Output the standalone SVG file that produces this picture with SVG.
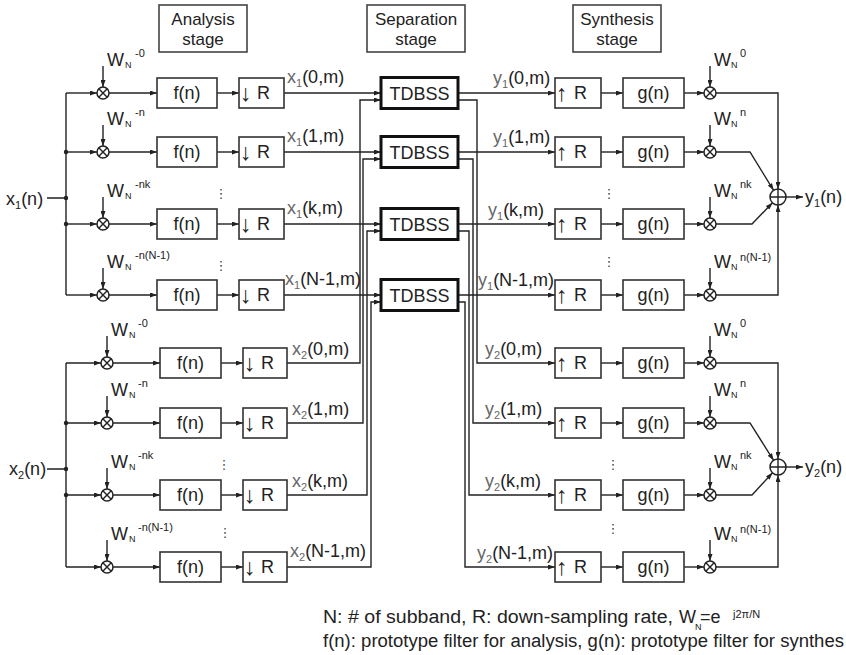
<svg xmlns="http://www.w3.org/2000/svg" width="846" height="655" viewBox="0 0 846 655">
<defs>
<style>
.ln{stroke:#222;stroke-width:1.4;fill:none}
.a{marker-end:url(#ah)}
.bx{fill:#fff;stroke:#333;stroke-width:1.6}
.hb{fill:#fff;stroke:#444;stroke-width:1.6}
.tb{fill:#fff;stroke:#111;stroke-width:3}
.t{font-family:"Liberation Sans",Arial,sans-serif;font-size:18px;fill:#222}
.ht{font-size:17px}
.ar{font-size:23px}
.ct{text-anchor:middle}
.v{fill:#666}
.s{font-size:11px}
.n{font-size:9px}
.p{font-size:11px}
.dots{font-family:"DejaVu Sans",sans-serif;font-size:13px;fill:#444;text-anchor:middle}
</style>
<marker id="ah" viewBox="0 0 7 5" refX="7" refY="2.5" markerWidth="7" markerHeight="5" markerUnits="userSpaceOnUse" orient="auto"><path d="M0,0L7,2.5L0,5z" fill="#222"/></marker>
<g id="mul"><circle r="6" fill="#fff" stroke="#222" stroke-width="1.5"/><path d="M-4.2,-4.2L4.2,4.2M-4.2,4.2L4.2,-4.2" stroke="#222" stroke-width="1.4"/></g>
<g id="sum"><circle r="8" fill="#fff" stroke="#222" stroke-width="1.5"/><path d="M-8,0H8M0,-8V8" stroke="#222" stroke-width="1.4"/></g>
</defs>
<rect width="846" height="655" fill="#fff"/>

<g id="headers">
<g id="h-analysis"><rect class="hb" x="159" y="5" width="88" height="47"/><text class="t ht ct" x="203" y="25">Analysis</text><text class="t ht ct" x="203" y="45">stage</text></g>
<g id="h-separation"><rect class="hb" x="367" y="5" width="98" height="47"/><text class="t ht ct" x="416" y="25">Separation</text><text class="t ht ct" x="416" y="45">stage</text></g>
<g id="h-synthesis"><rect class="hb" x="573" y="5" width="88" height="47"/><text class="t ht ct" x="617" y="25">Synthesis</text><text class="t ht ct" x="617" y="45">stage</text></g>
</g>

<g id="connectors">
<!-- channel 1 analysis -->
<path class="ln" d="M47,198H66M66,93V295"/>
<path class="ln a" d="M66,93H97"/><path class="ln a" d="M66,152H97"/><path class="ln a" d="M66,224H97"/><path class="ln a" d="M66,295H97"/>
<path class="ln a" d="M103,66V87"/><path class="ln a" d="M103,125V146"/><path class="ln a" d="M103,197V218"/><path class="ln a" d="M103,268V289"/>
<path class="ln a" d="M109,93H157"/><path class="ln a" d="M109,152H157"/><path class="ln a" d="M109,224H157"/><path class="ln a" d="M109,295H157"/>
<path class="ln a" d="M217,93H239"/><path class="ln a" d="M217,152H239"/><path class="ln a" d="M217,224H239"/><path class="ln a" d="M217,295H239"/>
<path class="ln a" d="M284,93H381"/><path class="ln a" d="M284,152H381"/><path class="ln a" d="M284,224H381"/><path class="ln a" d="M284,295H381"/>
<!-- channel 2 analysis -->
<path class="ln" d="M47,469H66M66,363V567"/>
<path class="ln a" d="M66,363H101"/><path class="ln a" d="M66,423H101"/><path class="ln a" d="M66,495H101"/><path class="ln a" d="M66,567H101"/>
<path class="ln a" d="M107,336V357"/><path class="ln a" d="M107,396V417"/><path class="ln a" d="M107,468V489"/><path class="ln a" d="M107,540V561"/>
<path class="ln a" d="M113,363H160"/><path class="ln a" d="M113,423H160"/><path class="ln a" d="M113,495H160"/><path class="ln a" d="M113,567H160"/>
<path class="ln a" d="M221,363H243"/><path class="ln a" d="M221,423H243"/><path class="ln a" d="M221,495H243"/><path class="ln a" d="M221,567H243"/>
<path class="ln a" d="M287,363H360V100H381"/>
<path class="ln a" d="M287,423H363V159H381"/>
<path class="ln a" d="M287,495H367V231H381"/>
<path class="ln a" d="M287,567H371V302H381"/>
<!-- separation outputs -->
<path class="ln a" d="M458,93H555"/><path class="ln a" d="M458,152H555"/><path class="ln a" d="M458,224H555"/><path class="ln a" d="M458,295H555"/>
<path class="ln a" d="M458,100H477V363H555"/>
<path class="ln a" d="M458,159H473V423H555"/>
<path class="ln a" d="M458,231H469V495H555"/>
<path class="ln a" d="M458,302H465V567H555"/>
<!-- channel 1 synthesis -->
<path class="ln a" d="M601,93H623"/><path class="ln a" d="M601,152H623"/><path class="ln a" d="M601,224H623"/><path class="ln a" d="M601,295H623"/>
<path class="ln a" d="M684,93H704"/><path class="ln a" d="M684,152H704"/><path class="ln a" d="M684,224H704"/><path class="ln a" d="M684,295H704"/>
<path class="ln a" d="M710,66V87"/><path class="ln a" d="M710,125V146"/><path class="ln a" d="M710,197V218"/><path class="ln a" d="M710,268V289"/>
<path class="ln a" d="M716,93H778V189"/>
<path class="ln a" d="M716,152H750L773.6,190.3"/>
<path class="ln a" d="M716,224H752L772.5,202.8"/>
<path class="ln a" d="M716,295H778V205"/>
<path class="ln a" d="M786,197H803"/>
<!-- channel 2 synthesis -->
<path class="ln a" d="M601,363H623"/><path class="ln a" d="M601,423H623"/><path class="ln a" d="M601,495H623"/><path class="ln a" d="M601,567H623"/>
<path class="ln a" d="M684,363H704"/><path class="ln a" d="M684,423H704"/><path class="ln a" d="M684,495H704"/><path class="ln a" d="M684,567H704"/>
<path class="ln a" d="M710,336V357"/><path class="ln a" d="M710,396V417"/><path class="ln a" d="M710,468V489"/><path class="ln a" d="M710,540V561"/>
<path class="ln a" d="M716,363H778V459"/>
<path class="ln a" d="M716,423H750L773.6,460.3"/>
<path class="ln a" d="M716,495H752L772.5,472.8"/>
<path class="ln a" d="M716,567H778V475"/>
<path class="ln a" d="M786,467H803"/>
<!-- junction dots -->
<g fill="#222"><circle cx="66" cy="152" r="2.2"/><circle cx="66" cy="198" r="2.2"/><circle cx="66" cy="224" r="2.2"/><circle cx="66" cy="423" r="2.2"/><circle cx="66" cy="469" r="2.2"/><circle cx="66" cy="495" r="2.2"/></g>
</g>

<!-- inputs / outputs -->
<g id="in1"><text class="t" x="6" y="205">x<tspan class="s" dy="4">1</tspan><tspan dy="-4">(n)</tspan></text></g>
<g id="in2"><text class="t" x="9" y="475">x<tspan class="s" dy="4">2</tspan><tspan dy="-4">(n)</tspan></text></g>
<g id="out1"><use href="#sum" x="778" y="197"/><text class="t" x="805" y="203">y<tspan class="s" dy="4">1</tspan><tspan dy="-4">(n)</tspan></text></g>
<g id="out2"><use href="#sum" x="778" y="467"/><text class="t" x="805" y="473">y<tspan class="s" dy="4">2</tspan><tspan dy="-4">(n)</tspan></text></g>

<!-- channel 1 analysis nodes -->
<g id="a1-0"><use href="#mul" x="103" y="93"/><text class="t" x="107" y="66">W</text><text class="t n" x="125" y="68">N</text><text class="t p" x="135" y="57">-0</text><rect class="bx" x="157" y="78" width="60" height="30"/><text class="t ct" x="187" y="99">f(n)</text><rect class="bx" x="239" y="78" width="45" height="30"/><text class="t ar" x="240" y="101">↓</text><text class="t" x="257" y="99">R</text></g>
<g id="a1-1"><use href="#mul" x="103" y="152"/><text class="t" x="107" y="125">W</text><text class="t n" x="125" y="127">N</text><text class="t p" x="135" y="116">-n</text><rect class="bx" x="157" y="137" width="60" height="30"/><text class="t ct" x="187" y="158">f(n)</text><rect class="bx" x="239" y="137" width="45" height="30"/><text class="t ar" x="240" y="160">↓</text><text class="t" x="257" y="158">R</text></g>
<g id="a1-k"><use href="#mul" x="103" y="224"/><text class="t" x="107" y="197">W</text><text class="t n" x="125" y="199">N</text><text class="t p" x="135" y="188">-nk</text><rect class="bx" x="157" y="209" width="60" height="30"/><text class="t ct" x="187" y="230">f(n)</text><rect class="bx" x="239" y="209" width="45" height="30"/><text class="t ar" x="240" y="232">↓</text><text class="t" x="257" y="230">R</text></g>
<g id="a1-N"><use href="#mul" x="103" y="295"/><text class="t" x="107" y="268">W</text><text class="t n" x="125" y="270">N</text><text class="t p" x="135" y="259">-n(N-1)</text><rect class="bx" x="157" y="280" width="60" height="30"/><text class="t ct" x="187" y="301">f(n)</text><rect class="bx" x="239" y="280" width="45" height="30"/><text class="t ar" x="240" y="303">↓</text><text class="t" x="257" y="301">R</text></g>

<!-- channel 2 analysis nodes -->
<g id="a2-0"><use href="#mul" x="107" y="363"/><text class="t" x="111" y="336">W</text><text class="t n" x="129" y="338">N</text><text class="t p" x="138" y="327">-0</text><rect class="bx" x="160" y="348" width="61" height="30"/><text class="t ct" x="190.5" y="369">f(n)</text><rect class="bx" x="243" y="348" width="44" height="30"/><text class="t ar" x="244" y="371">↓</text><text class="t" x="261" y="369">R</text></g>
<g id="a2-1"><use href="#mul" x="107" y="423"/><text class="t" x="111" y="396">W</text><text class="t n" x="129" y="398">N</text><text class="t p" x="138" y="387">-n</text><rect class="bx" x="160" y="408" width="61" height="30"/><text class="t ct" x="190.5" y="429">f(n)</text><rect class="bx" x="243" y="408" width="44" height="30"/><text class="t ar" x="244" y="431">↓</text><text class="t" x="261" y="429">R</text></g>
<g id="a2-k"><use href="#mul" x="107" y="495"/><text class="t" x="111" y="468">W</text><text class="t n" x="129" y="470">N</text><text class="t p" x="138" y="459">-nk</text><rect class="bx" x="160" y="480" width="61" height="30"/><text class="t ct" x="190.5" y="501">f(n)</text><rect class="bx" x="243" y="480" width="44" height="30"/><text class="t ar" x="244" y="503">↓</text><text class="t" x="261" y="501">R</text></g>
<g id="a2-N"><use href="#mul" x="107" y="567"/><text class="t" x="111" y="540">W</text><text class="t n" x="129" y="542">N</text><text class="t p" x="138" y="531">-n(N-1)</text><rect class="bx" x="160" y="552" width="61" height="30"/><text class="t ct" x="190.5" y="573">f(n)</text><rect class="bx" x="243" y="552" width="44" height="30"/><text class="t ar" x="244" y="575">↓</text><text class="t" x="261" y="573">R</text></g>

<!-- subband signal labels -->
<g id="xlabels">
<text class="t" x="287" y="83"><tspan class="v">x</tspan><tspan class="v s" dy="4">1</tspan><tspan dy="-4">(0,m)</tspan></text>
<text class="t" x="287" y="142"><tspan class="v">x</tspan><tspan class="v s" dy="4">1</tspan><tspan dy="-4">(1,m)</tspan></text>
<text class="t" x="287" y="214"><tspan class="v">x</tspan><tspan class="v s" dy="4">1</tspan><tspan dy="-4">(k,m)</tspan></text>
<text class="t" x="285" y="285"><tspan class="v">x</tspan><tspan class="v s" dy="4">1</tspan><tspan dy="-4">(N-1,m)</tspan></text>
<text class="t" x="292" y="355"><tspan class="v">x</tspan><tspan class="v s" dy="4">2</tspan><tspan dy="-4">(0,m)</tspan></text>
<text class="t" x="292" y="415"><tspan class="v">x</tspan><tspan class="v s" dy="4">2</tspan><tspan dy="-4">(1,m)</tspan></text>
<text class="t" x="292" y="487"><tspan class="v">x</tspan><tspan class="v s" dy="4">2</tspan><tspan dy="-4">(k,m)</tspan></text>
<text class="t" x="290" y="557"><tspan class="v">x</tspan><tspan class="v s" dy="4">2</tspan><tspan dy="-4">(N-1,m)</tspan></text>
</g>
<g id="ylabels">
<text class="t" x="493" y="84"><tspan class="v">y</tspan><tspan class="v s" dy="4">1</tspan><tspan dy="-4">(0,m)</tspan></text>
<text class="t" x="493" y="143"><tspan class="v">y</tspan><tspan class="v s" dy="4">1</tspan><tspan dy="-4">(1,m)</tspan></text>
<text class="t" x="488" y="216"><tspan class="v">y</tspan><tspan class="v s" dy="4">1</tspan><tspan dy="-4">(k,m)</tspan></text>
<text class="t" x="478" y="286"><tspan class="v">y</tspan><tspan class="v s" dy="4">1</tspan><tspan dy="-4">(N-1,m)</tspan></text>
<text class="t" x="485" y="355"><tspan class="v">y</tspan><tspan class="v s" dy="4">2</tspan><tspan dy="-4">(0,m)</tspan></text>
<text class="t" x="485" y="415"><tspan class="v">y</tspan><tspan class="v s" dy="4">2</tspan><tspan dy="-4">(1,m)</tspan></text>
<text class="t" x="485" y="487"><tspan class="v">y</tspan><tspan class="v s" dy="4">2</tspan><tspan dy="-4">(k,m)</tspan></text>
<text class="t" x="477" y="559"><tspan class="v">y</tspan><tspan class="v s" dy="4">2</tspan><tspan dy="-4">(N-1,m)</tspan></text>
</g>

<!-- separation -->
<g id="tdbss-0"><rect class="tb" x="381" y="77.5" width="77" height="31"/><text class="t ct" x="419.5" y="100">TDBSS</text></g>
<g id="tdbss-1"><rect class="tb" x="381" y="136.5" width="77" height="31"/><text class="t ct" x="419.5" y="159">TDBSS</text></g>
<g id="tdbss-k"><rect class="tb" x="381" y="208.5" width="77" height="31"/><text class="t ct" x="419.5" y="231">TDBSS</text></g>
<g id="tdbss-N"><rect class="tb" x="381" y="279.5" width="77" height="31"/><text class="t ct" x="419.5" y="302">TDBSS</text></g>

<!-- channel 1 synthesis nodes -->
<g id="s1-0"><rect class="bx" x="555" y="78" width="46" height="30"/><text class="t ar" x="556" y="101">↑</text><text class="t" x="574" y="99">R</text><rect class="bx" x="623" y="78" width="61" height="30"/><text class="t ct" x="653.5" y="99">g(n)</text><use href="#mul" x="710" y="93"/><text class="t" x="714" y="66">W</text><text class="t n" x="731" y="68">N</text><text class="t p" x="740" y="57">0</text></g>
<g id="s1-1"><rect class="bx" x="555" y="137" width="46" height="30"/><text class="t ar" x="556" y="160">↑</text><text class="t" x="574" y="158">R</text><rect class="bx" x="623" y="137" width="61" height="30"/><text class="t ct" x="653.5" y="158">g(n)</text><use href="#mul" x="710" y="152"/><text class="t" x="714" y="125">W</text><text class="t n" x="731" y="127">N</text><text class="t p" x="740" y="116">n</text></g>
<g id="s1-k"><rect class="bx" x="555" y="209" width="46" height="30"/><text class="t ar" x="556" y="232">↑</text><text class="t" x="574" y="230">R</text><rect class="bx" x="623" y="209" width="61" height="30"/><text class="t ct" x="653.5" y="230">g(n)</text><use href="#mul" x="710" y="224"/><text class="t" x="714" y="197">W</text><text class="t n" x="731" y="199">N</text><text class="t p" x="740" y="188">nk</text></g>
<g id="s1-N"><rect class="bx" x="555" y="280" width="46" height="30"/><text class="t ar" x="556" y="303">↑</text><text class="t" x="574" y="301">R</text><rect class="bx" x="623" y="280" width="61" height="30"/><text class="t ct" x="653.5" y="301">g(n)</text><use href="#mul" x="710" y="295"/><text class="t" x="714" y="268">W</text><text class="t n" x="731" y="270">N</text><text class="t p" x="740" y="261">n(N-1)</text></g>

<!-- channel 2 synthesis nodes -->
<g id="s2-0"><rect class="bx" x="555" y="348" width="46" height="30"/><text class="t ar" x="556" y="371">↑</text><text class="t" x="574" y="369">R</text><rect class="bx" x="623" y="348" width="61" height="30"/><text class="t ct" x="653.5" y="369">g(n)</text><use href="#mul" x="710" y="363"/><text class="t" x="714" y="336">W</text><text class="t n" x="731" y="338">N</text><text class="t p" x="740" y="327">0</text></g>
<g id="s2-1"><rect class="bx" x="555" y="408" width="46" height="30"/><text class="t ar" x="556" y="431">↑</text><text class="t" x="574" y="429">R</text><rect class="bx" x="623" y="408" width="61" height="30"/><text class="t ct" x="653.5" y="429">g(n)</text><use href="#mul" x="710" y="423"/><text class="t" x="714" y="396">W</text><text class="t n" x="731" y="398">N</text><text class="t p" x="740" y="387">n</text></g>
<g id="s2-k"><rect class="bx" x="555" y="480" width="46" height="30"/><text class="t ar" x="556" y="503">↑</text><text class="t" x="574" y="501">R</text><rect class="bx" x="623" y="480" width="61" height="30"/><text class="t ct" x="653.5" y="501">g(n)</text><use href="#mul" x="710" y="495"/><text class="t" x="714" y="468">W</text><text class="t n" x="731" y="470">N</text><text class="t p" x="740" y="459">nk</text></g>
<g id="s2-N"><rect class="bx" x="555" y="552" width="46" height="30"/><text class="t ar" x="556" y="575">↑</text><text class="t" x="574" y="573">R</text><rect class="bx" x="623" y="552" width="61" height="30"/><text class="t ct" x="653.5" y="573">g(n)</text><use href="#mul" x="710" y="567"/><text class="t" x="714" y="540">W</text><text class="t n" x="731" y="542">N</text><text class="t p" x="740" y="533">n(N-1)</text></g>

<!-- ellipses -->
<g id="ellipses">
<text class="dots" x="221" y="198">⋮</text><text class="dots" x="221" y="270">⋮</text>
<text class="dots" x="609" y="198">⋮</text><text class="dots" x="609" y="266">⋮</text>
<text class="dots" x="224" y="469">⋮</text><text class="dots" x="225" y="537">⋮</text>
<text class="dots" x="613" y="469">⋮</text><text class="dots" x="613" y="533">⋮</text>
</g>

<!-- legend -->
<g id="legend">
<text class="t" x="323" y="623" textLength="350" lengthAdjust="spacingAndGlyphs">N: # of subband, R: down-sampling rate,</text>
<text class="t" x="679" y="623">W</text><text class="t n" x="695" y="630">N</text><text class="t" x="700" y="623">=e</text>
<text class="t p" x="733" y="618">j2π/N</text>
<text class="t" x="323" y="647" textLength="521" lengthAdjust="spacingAndGlyphs">f(n): prototype filter for analysis, g(n): prototype filter for synthes</text>
</g>
</svg>
